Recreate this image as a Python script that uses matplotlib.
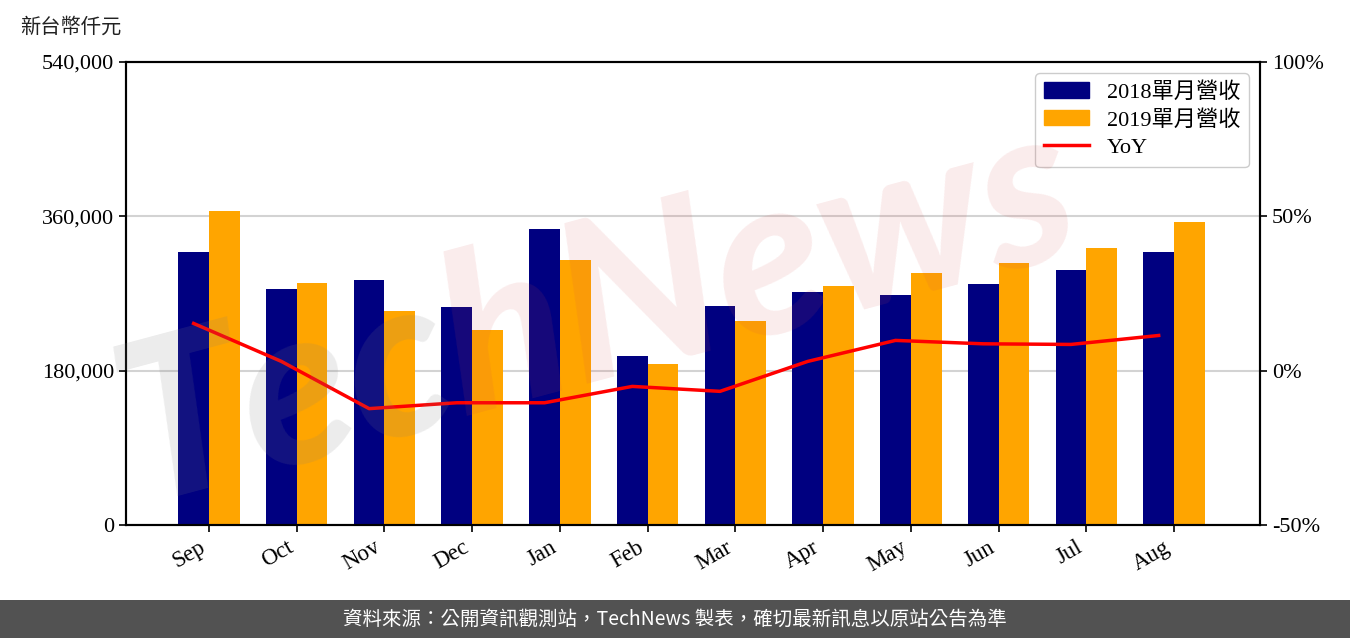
import matplotlib
matplotlib.use("Agg")
import matplotlib.pyplot as plt
import numpy as np
from matplotlib.patches import Rectangle, Patch
from matplotlib.lines import Line2D
from matplotlib.ticker import FuncFormatter, FixedLocator
import math

months = ["Sep", "Oct", "Nov", "Dec", "Jan", "Feb", "Mar", "Apr", "May", "Jun", "Jul", "Aug"]
rev_2018 = [318400, 275250, 285750, 254250, 345230, 197100, 255420, 271750, 268250, 281080, 297410, 318400]
rev_2019 = [366220, 282240, 249590, 227430, 309070, 187780, 237930, 278750, 293910, 305570, 323070, 353390]
yoy = [0.153, 0.030, -0.123, -0.104, -0.104, -0.051, -0.067, 0.030, 0.098, 0.087, 0.085, 0.114]

label_2018 = "2018單月營收"
label_2019 = "2019單月營收"
label_yoy = "YoY"
y_unit = "新台幣仟元"
footer = "資料來源：公開資訊觀測站，TechNews 製表，確切最新訊息以原站公告為準"

SERIF = ["Liberation Serif", "Noto Sans CJK TC"]
SANS = ["Noto Sans CJK TC", "DejaVu Sans"]
FS = 16

fig = plt.figure(figsize=(13.5, 6.38), dpi=100)
ax = fig.add_axes([126 / 1350, 113 / 638, 1134 / 1350, 463 / 638])
ax2 = ax.twinx()

x = np.arange(len(months))
w = 0.35
ax.bar(x - w / 2, rev_2018, width=w, color="#000080", zorder=2)
ax.bar(x + w / 2, rev_2019, width=w, color="#FFA500", zorder=2)
ax2.plot(x - w / 2, yoy, color="#FF0000", lw=2.5, zorder=3)

ax.set_xlim(-0.946, 11.98)
ax.set_ylim(0, 540000)
ax.yaxis.set_major_locator(FixedLocator([0, 180000, 360000, 540000]))
ax.yaxis.set_major_formatter(FuncFormatter(lambda v, p: f"{int(v):,}"))
ax2.set_ylim(-0.5, 1.0)
ax2.yaxis.set_major_locator(FixedLocator([-0.5, 0, 0.5, 1.0]))
ax2.yaxis.set_major_formatter(FuncFormatter(lambda v, p: f"{int(round(v * 100))}%"))

ax.set_axisbelow(True)
ax.grid(axis="y", color="#d3d3d3", lw=1.5)
ax.set_xticks(x)
ax.set_xticklabels(months, rotation=30, ha="right", rotation_mode="default")

for a in (ax, ax2):
    for s in a.spines.values():
        s.set_linewidth(1.5)
        s.set_color("black")
    a.tick_params(labelsize=FS, width=1.2, length=5, colors="black")
    for lab in a.get_xticklabels() + a.get_yticklabels():
        lab.set_fontfamily(SERIF)
ax.tick_params(axis="x", labelsize=16.5)

handles = [Patch(color="#000080"), Patch(color="#FFA500"), Line2D([], [], color="#FF0000", lw=2.5)]
leg = ax2.legend(handles, [label_2018, label_2019, label_yoy], loc="upper right",
                 prop={"family": SERIF, "size": FS}, framealpha=1, edgecolor="#cccccc",
                 labelspacing=0.32)

fig.text(20 / 1350, 1 - 27 / 638, y_unit, fontsize=14.6, family=SANS, va="center", ha="left", color="#222222")

fig.add_artist(Rectangle((0, 0), 1, 38 / 638, transform=fig.transFigure, facecolor="#525252",
                         edgecolor="none", zorder=1))
fig.text(0.5, 19 / 638, footer, fontsize=14, family=SANS, color="white", ha="center", va="center", zorder=2)

# watermark
renderer = fig.canvas.get_renderer()
theta = 15
wm_fs = 160
x0, y0 = 140, 135
tmp = fig.text(0, 0, "Tec", fontsize=wm_fs, family="Lato", weight="black", style="italic")
wpx = tmp.get_window_extent(renderer).width
tmp.remove()
t1 = fig.text(x0 / 1350, y0 / 638, "Tec", fontsize=wm_fs, family="Lato", weight="black", style="italic",
              color=(0.5, 0.5, 0.5, 0.15), rotation=theta, rotation_mode="anchor", ha="left", va="baseline", zorder=5)
x1 = x0 + wpx * math.cos(math.radians(theta))
y1 = y0 + wpx * math.sin(math.radians(theta))
t2 = fig.text(x1 / 1350, y1 / 638, "hNews", fontsize=wm_fs, family="Lato", weight="black", style="italic",
              color=(0.85, 0.3, 0.3, 0.11), rotation=theta, rotation_mode="anchor", ha="left", va="baseline", zorder=5)

fig.savefig("out.png", dpi=100)
